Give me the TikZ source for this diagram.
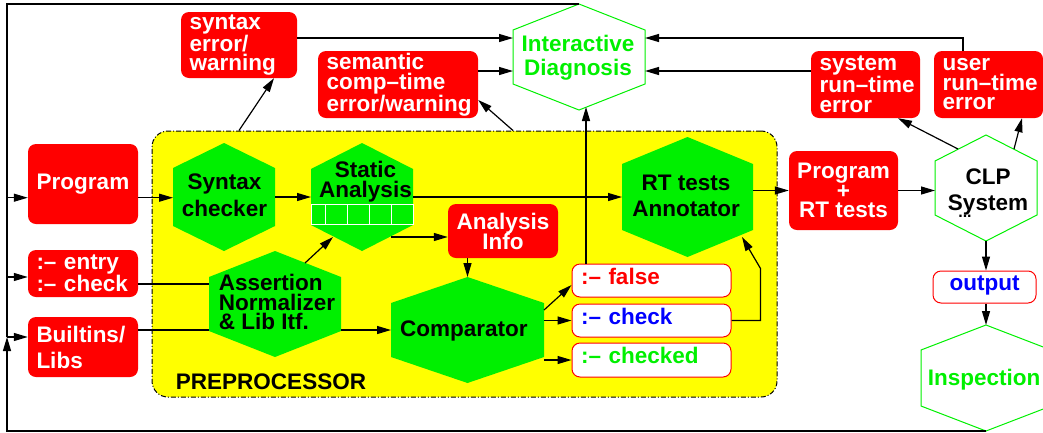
\documentclass[tikz,border=0pt]{standalone}
\usepackage{fontspec}
\setmainfont{Liberation Sans}
\usetikzlibrary{arrows.meta,calc}
\definecolor{xred}{RGB}{255,0,0}
\definecolor{xgreen}{RGB}{0,240,0}
\definecolor{xblue}{RGB}{0,0,255}
\definecolor{xyellow}{RGB}{255,255,0}
\lineskiplimit=-100pt
\newcommand\fsz[1]{\fontsize{22.5}{#1}\selectfont\bfseries}
\newcommand\hexa[7]{%
  \path[#7] ({#2},{#3-#5}) -- ({#2+#4},{#3-#5+#6}) -- ({#2+#4},{#3+#5-#6}) -- ({#2},{#3+#5}) -- ({#2-#4},{#3+#5-#6}) -- ({#2-#4},{#3-#5+#6}) -- cycle;
  \node[anchorbox, minimum width={2*#4}, minimum height={2*#5}] (#1) at (#2,#3) {};
}
\begin{document}
\begin{tikzpicture}[x=1pt,y=-1pt,
  ln/.style={line width=1.2pt},
  arr/.style={line width=1.2pt,-{Triangle[length=14pt,width=8pt]}},
  anchorbox/.style={shape=rectangle, inner sep=0pt, outer sep=0pt, draw=none},
  redbox/.style={fill=xred, text=white, rounded corners=8pt, inner sep=0pt, align=center},
  leftbox/.style={fill=xred, text=white, rounded corners=8pt, inner xsep=8.5pt, inner ysep=0pt, align=left},
  whitebox/.style={draw=xred, line width=1pt, fill=white, rounded corners=8pt, inner xsep=9pt, inner ysep=0pt, text height=16pt, text depth=9pt, font={\fsz{20}}},
  whitehex/.style={draw=xgreen, fill=white, line width=1pt},
  greenhex/.style={fill=xgreen},
  txt/.style={inner sep=0pt, align=center},
  prebox/.style={draw, fill=xyellow, rounded corners=16pt, line width=1pt, dash pattern=on 5pt off 2pt on 1pt off 2pt, inner sep=0pt}
]
\useasboundingbox (0,0) rectangle (1043,432);
\clip (0,0) rectangle (1043,432);

% preprocessor area
\node[prebox, minimum width=625pt, minimum height=266pt] (pre) at (464.5,264) {};
\node[txt, font={\fsz{22}}] (pret) at (271,382) {PREPROCESSOR};

% hexagons
\hexa{diag}{579}{57}{66}{53}{26}{whitehex}
\hexa{syn}{224}{197}{51}{54}{25}{greenhex}
\hexa{stat}{362}{197}{51}{54}{26}{greenhex}
\hexa{ana}{275}{304}{66}{53}{26}{greenhex}
\hexa{comp}{467.5}{330}{76.5}{53}{26}{greenhex}
\hexa{rt}{687.5}{197}{65.5}{60}{27}{greenhex}
\hexa{clp}{986}{188}{51}{53}{26}{whitehex}
\hexa{insp}{986}{378}{65}{53}{25}{whitehex}

% table inside Static Analysis
\draw[white, line width=0.8pt] ($(stat.center)+(-50.5,7)$) rectangle ($(stat.center)+(51,27)$);
\foreach \dx in {-37,-15,7,29} \draw[white, line width=0.8pt] ($(stat.center)+(\dx,7)$) -- ($(stat.center)+(\dx,27)$);

% hexagon texts
\node[txt, text=xgreen, font={\fsz{24}}] (diagt) at (578,58) {Interactive\\Diagnosis};
\node[txt, font={\fsz{27}}] (synt) at (224.5,195.5) {Syntax\\checker};
\node[txt, font={\fsz{19.6}}] (statt) at (365.5,181.7) {Static\\Analysis};
\node[txt, align=left, font={\fsz{19.5}}] (anat) at (277,302.4) {Assertion\\Normalizer\\\& Lib Itf.};
\node[txt, font={\fsz{20}}] (compt) at (463.8,330.9) {Comparator};
\node[txt, font={\fsz{26.6}}] (rtt) at (686,195.9) {RT tests\\Annotator};
\node[txt, font={\fsz{26}}] (clpt) at (988,192.2) {CLP\\System};
\node[txt, font={\fontsize{16}{16}\selectfont\bfseries}] (clpdots) at (965,216) {...};
\node[txt, text=xgreen, font={\fsz{20}}] (inspt) at (984.2,379.2) {Inspection};

% red boxes
\node[leftbox, text width=99pt, minimum height=66pt, font={\fsz{19.5}}] (synerr) at (239,45) {syntax\\error/\\warning};
\node[leftbox, text width=143pt, minimum height=67pt, font={\fsz{19.5}}] (semerr) at (398,84.5) {semantic\\\mbox{comp–time}\\\mbox{error/warning}};
\node[leftbox, text width=92pt, minimum height=67pt, font={\fsz{19.5}}] (syserr) at (865.5,84.5) {system\\\mbox{run–time}\\error};
\node[leftbox, text width=92pt, minimum height=67pt, font={\fsz{19.5}}] (usererr) at (988.5,84.5) {user\\\mbox{run–time}\\error};
\node[redbox, minimum width=110pt, minimum height=80pt, font={\fsz{20}}] (prog) at (83,184) {Program};
\node[leftbox, text width=93pt, minimum height=47pt, font={\fsz{20}}] (entry) at (83,273.5) {:– entry\\:– check};
\node[leftbox, text width=93pt, minimum height=60pt, font={\fsz{26}}] (builtins) at (83,347) {Builtins/\\Libs};
\node[redbox, minimum width=110pt, minimum height=54pt, font={\fsz{20}}] (ainfo) at (503,231) {Analysis\\Info};
\node[redbox, minimum width=109pt, minimum height=79pt, font={\fsz{19.5}}] (progrt) at (843.5,190.5) {Program\\+\\RT tests};

% white boxes
\node[whitebox, text width=141pt, minimum height=33pt, text=xred, align=left] (fals) at (651.5,280.5) {:– false};
\node[whitebox, text width=141pt, minimum height=33pt, text=xblue, align=left] (chk) at (651.5,320.5) {:– check};
\node[whitebox, text width=141pt, minimum height=34pt, text=xgreen, align=left] (chkd) at (651.5,360) {:– checked};
\node[whitebox, minimum width=103pt, minimum height=32pt, text=xblue, text depth=10pt, align=center] (output) at (984.5,287) {output};

% helper coordinates
\coordinate (jp) at (7,197.7);
\coordinate (je) at (7,277);
\coordinate (jb) at (7,337);
\coordinate (ye) at (0,284);
\coordinate (yb) at (0,330);
\coordinate (yd1) at (0,38);
\coordinate (yd2) at (0,71);
\coordinate (fx) at (586,0);
\coordinate (ux) at (963,0);

% feedback bus
\draw[ln] (diag.north) -| (jb);
\draw[arr] (insp.south) -| (jb);
\draw[arr] (jp) -- (prog.west |- jp);
\draw[arr] (je) -- (entry.west |- je);
\draw[arr] (jb) -- (builtins.west |- jb);

% preprocessor flow
\draw[arr] (prog.east |- jp) -- (syn.west |- jp);
\draw[arr] (syn.east) -- (stat.west);
\draw[arr] (stat.east) -- (rt.west |- stat.east);
\draw[arr] ($(ana.north)+(30,12)$) -- ($(stat.south)+(-29,-14)$);
\coordinate (s1) at ($(stat.south)+(29,-14)$);
\draw[arr] (s1) -- (s1 -| ainfo.west);
\draw[arr] (ainfo.south -| comp.north) -- (comp.north);
\draw[ln] (entry.east |- ye) -- (ana.west |- ye);
\draw[ln] (builtins.east |- yb) -- (ana.west |- yb);
\draw[arr] (ana.east |- yb) -- (comp.west |- yb);
\draw[arr] ($(comp.east)+(0,-20)$) -- ($(fals.west)+(0,4.5)$);
\draw[arr] (comp.east |- chk.west) -- (chk.west);
\draw[arr] (comp.east |- chkd.west) -- (chkd.west);
\draw[arr] (chk.east) -- ++(29,0) -- ++(0,-52) -- ($(rt.south)+(54.5,-20)$);
\draw[arr] (fals.north -| fx) -- ($(diag.south)+(7,-3)$);

% diagnostics
\draw[arr] (pre.north -| synerr.south) -- ($(synerr.south)+(35,0)$);
\draw[arr] (pre.north -| diag.west) -- ($(semerr.east)+(0,15.5)$);
\draw[arr] (synerr.east |- yd1) -- (diag.west |- yd1);
\draw[arr] (semerr.east |- yd2) -- (diag.west |- yd2);
\draw[arr] (syserr.west |- yd2) -- (diag.east |- yd2);
\draw[arr] (usererr.north -| ux) |- (diag.east |- yd1);

% run-time
\draw[arr] (rt.east |- progrt.west) -- (progrt.west);
\draw[arr] (progrt.east) -- (clp.west |- progrt.east);
\draw[arr] ($(clp.north)+(-28,14)$) -- ($(syserr.south)+(32.5,0)$);
\draw[arr] ($(clp.north)+(28,14)$) -- ($(usererr.south)+(33.5,0)$);
\draw[arr] (clp.south) -- (clp.south |- output.north);
\draw[arr] (output.south -| insp.north) -- (insp.north);
\end{tikzpicture}
\end{document}
